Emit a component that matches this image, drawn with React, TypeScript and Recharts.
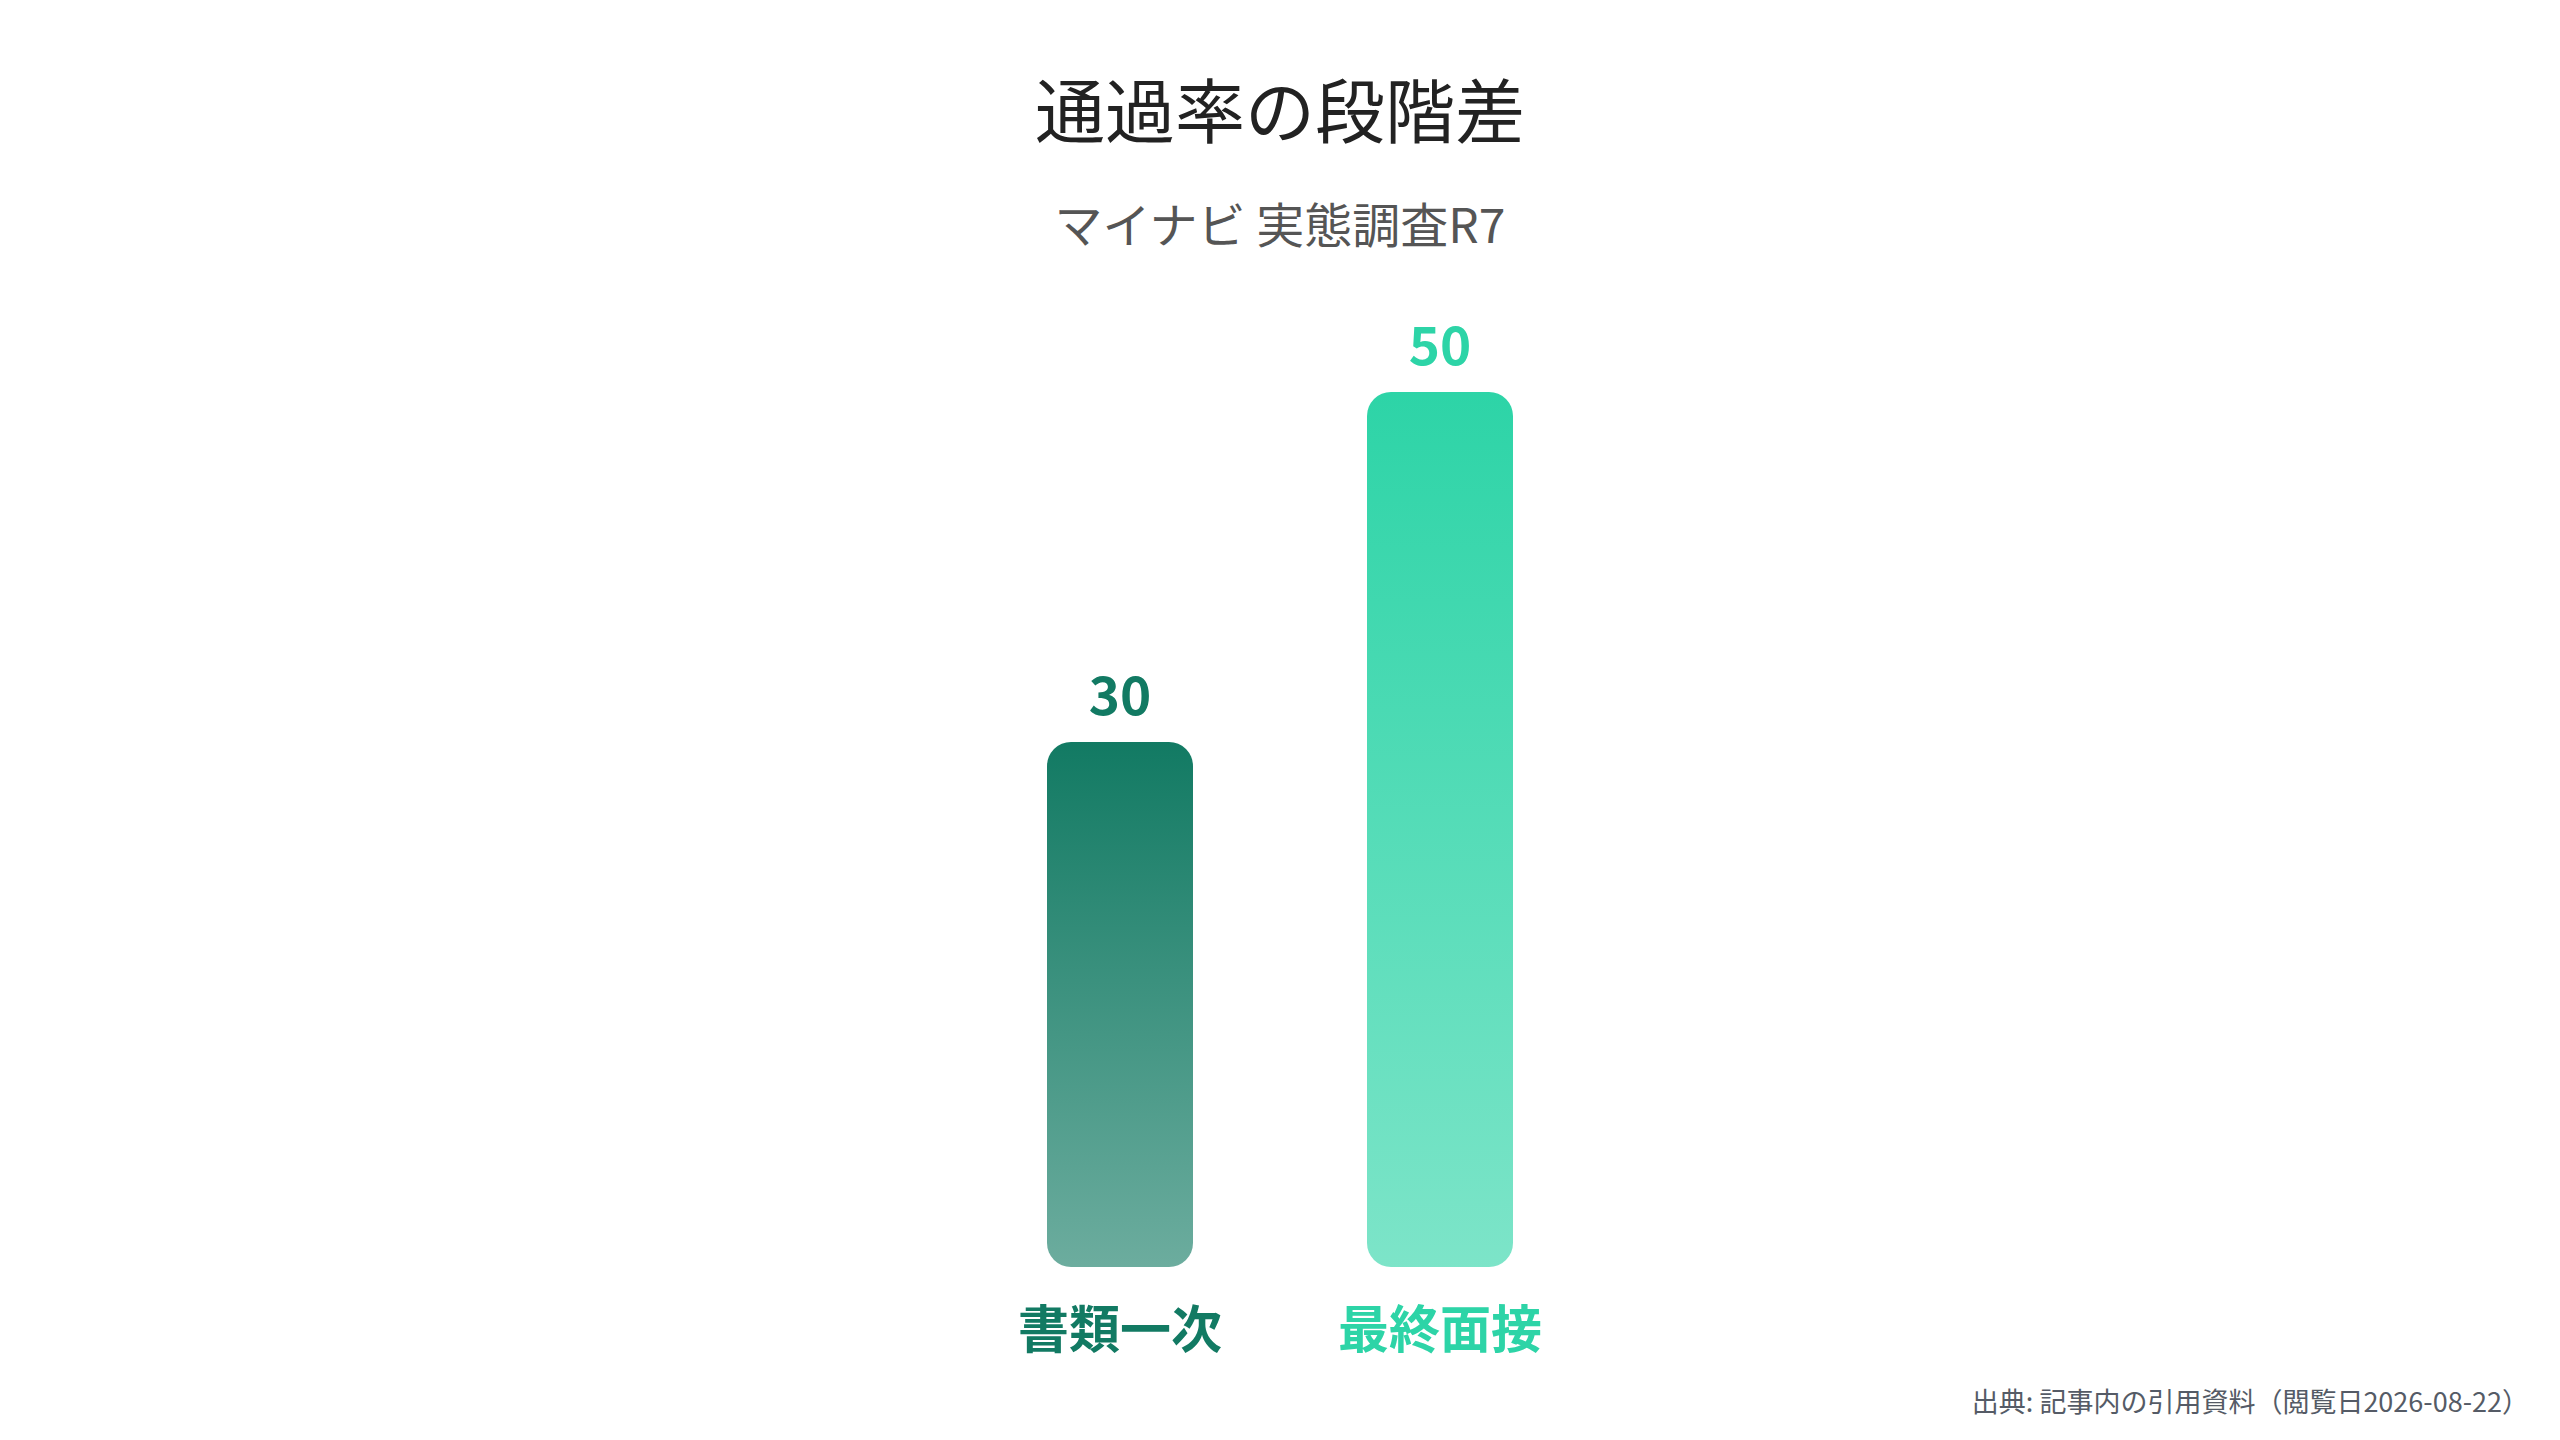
import { BarChart, Bar, XAxis, YAxis, Cell, LabelList } from "recharts";

const categories = ["書類一次", "最終面接"];
const passRates = [30, 50];
const barColors = ["#127a63", "#2dd4a7"];
const yDomain = [0, 50];

const FONT = '"Noto Sans CJK JP", "Noto Sans", sans-serif';

const data = categories.map((name, i) => ({ name, value: passRates[i] }));

function CategoryTick(props: any) {
  const { x, y, payload, index } = props;
  return (
    <text
      x={x}
      y={y + 51}
      textAnchor="middle"
      dominantBaseline="central"
      fontFamily={FONT}
      fontSize={51}
      fontWeight={700}
      fill={barColors[index] ?? barColors[0]}
    >
      {payload.value}
    </text>
  );
}

function ValueLabel(props: any) {
  const { x, y, width, value, index } = props;
  return (
    <text
      x={Number(x) + Number(width) / 2}
      y={Number(y) - 50}
      textAnchor="middle"
      dominantBaseline="central"
      fontFamily={FONT}
      fontSize={53}
      fontWeight={700}
      fill={barColors[index] ?? barColors[0]}
    >
      {value}
    </text>
  );
}

export default function App() {
  return (
    <div
      style={{
        position: "absolute",
        left: 0,
        top: 0,
        width: 2560,
        height: 1440,
        background: "#ffffff",
        fontFamily: FONT,
      }}
    >
      <div
        style={{
          position: "absolute",
          top: 73,
          left: 0,
          width: 2560,
          textAlign: "center",
          fontSize: 70,
          lineHeight: "70px",
          color: "#222222",
          fontWeight: 400,
        }}
      >
        通過率の段階差
      </div>
      <div
        style={{
          position: "absolute",
          top: 198,
          left: 0,
          width: 2560,
          textAlign: "center",
          fontSize: 48,
          lineHeight: "48px",
          color: "#555555",
        }}
      >
        マイナビ 実態調査R7
      </div>

      <BarChart
        width={2560}
        height={1440}
        data={data}
        margin={{ top: 392, right: 960, bottom: 73, left: 960 }}
      >
        <defs>
          {barColors.map((c, i) => (
            <linearGradient key={c} id={`barGrad${i}`} x1="0" y1="0" x2="0" y2="1">
              <stop offset="0%" stopColor={c} stopOpacity={1} />
              <stop offset="100%" stopColor={c} stopOpacity={0.62} />
            </linearGradient>
          ))}
        </defs>
        <XAxis
          dataKey="name"
          height={100}
          axisLine={false}
          tickLine={false}
          interval={0}
          tick={<CategoryTick />}
        />
        <YAxis hide domain={yDomain} />
        <Bar dataKey="value" barSize={146} radius={24} isAnimationActive={false}>
          {data.map((d, i) => (
            <Cell key={d.name} fill={`url(#barGrad${i})`} />
          ))}
          <LabelList dataKey="value" content={<ValueLabel />} />
        </Bar>
      </BarChart>

      <div
        style={{
          position: "absolute",
          top: 1387,
          right: 31,
          fontSize: 27,
          lineHeight: "27px",
          color: "#555b66",
          whiteSpace: "nowrap",
        }}
      >
        出典: 記事内の引用資料（閲覧日2026-08-22）
      </div>
    </div>
  );
}
